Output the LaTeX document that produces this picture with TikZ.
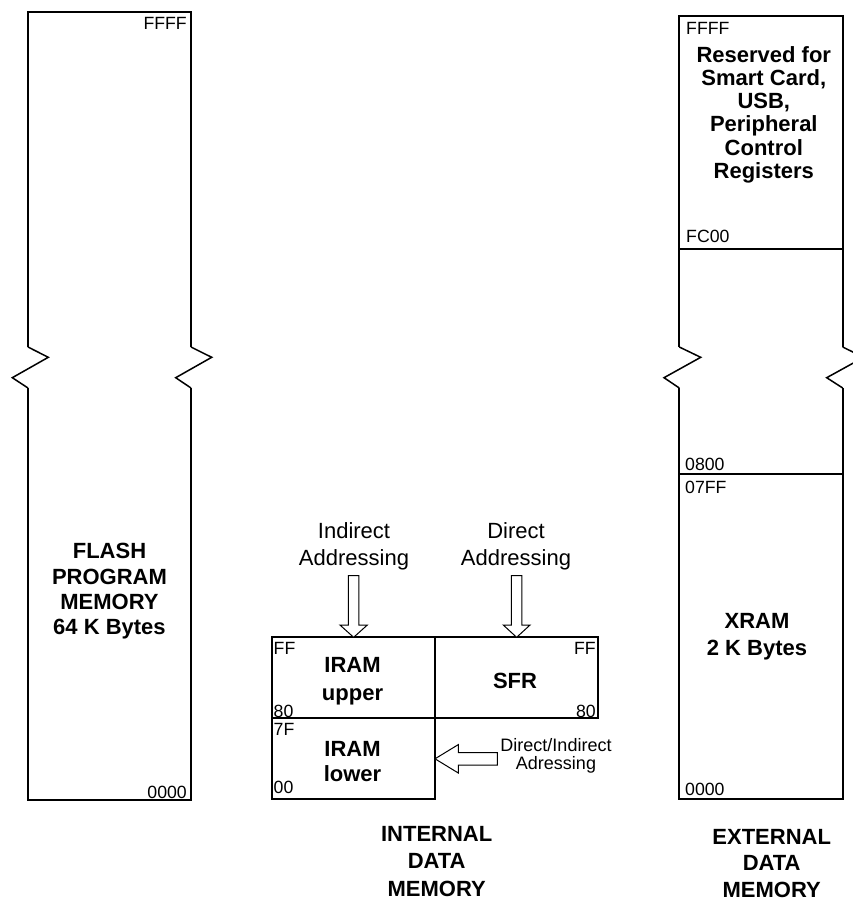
\documentclass[tikz,border=0pt]{standalone}
\usepackage{fontspec}
\setmainfont{Liberation Sans}
\begin{document}
\begin{tikzpicture}[x=1pt,y=-1pt,
  mem/.style={draw=black, line width=2pt, line join=miter},
  zig/.style={draw=black, line width=1.5pt},
  membox/.style={draw=black, line width=1.8pt, inner sep=0pt, outer sep=0pt},
  hexl/.style={font=\fontsize{17.7}{20}\selectfont, inner sep=0pt},
  bigb/.style={font=\fontsize{22}{#1}\selectfont\bfseries, align=center, inner sep=0pt, anchor=base},
  reg/.style={font=\fontsize{22}{#1}\selectfont, align=center, inner sep=0pt, anchor=base},
  smallreg/.style={font=\fontsize{18}{#1}\selectfont, align=center, inner sep=0pt, anchor=base},
  blockarr/.style={draw=black, line width=1pt, fill=white, line join=miter}
]
\useasboundingbox (0,0) rectangle (852,900);

% ---------- Flash program memory ----------
\draw[mem] (28,347) -- (28,12) -- (191,12) -- (191,347);
\draw[mem] (28,388) -- (28,800) -- (191,800) -- (191,388);
\draw[zig] (28,347) -- (48.3,357.3) -- (12.3,377.7) -- (28,388);
\draw[zig] (191,347) -- (211.7,357.3) -- (175.7,377.7) -- (191,388);
\node[hexl, anchor=base east] (fffff) at (187,29.6) {FFFF};
\node[hexl, anchor=base east] (f0000) at (187,798) {0000};
\node[bigb=25.3] (flash) at (109.5,634.6) {FLASH\\PROGRAM\\MEMORY\\64 K Bytes};

% ---------- External data memory ----------
\draw[mem] (679.3,347) -- (679.3,15.7) -- (842.7,15.7) -- (842.7,347);
\draw[mem] (679.3,388) -- (679.3,799) -- (842.7,799) -- (842.7,388);
\draw[zig] (679.3,347) -- (700.7,357.3) -- (664,377.7) -- (679.3,388);
\draw[zig] (842.7,347) -- (863.7,357.3) -- (826.7,377.7) -- (842.7,388);
\draw[mem] (679.3,249.3) -- (842.7,249.3);
\draw[mem] (679.3,474) -- (842.7,474);
\node[hexl, anchor=base west] (xffff) at (686,34.6) {FFFF};
\node[hexl, anchor=base west] (xfc00) at (686,242) {FC00};
\node[hexl, anchor=base west] (x0800) at (685,470.3) {0800};
\node[hexl, anchor=base west] (x07ff) at (685,493) {07FF};
\node[hexl, anchor=base west] (x0000) at (685,795.6) {0000};
\node[bigb=23.3] (resv) at (763.8,178.5) {Reserved for\\Smart Card,\\USB,\\Peripheral\\Control\\Registers};
\node[bigb=27.2] (xram) at (757,655.4) {XRAM\\2 K Bytes};
\node[bigb=26.5] (extl) at (771.7,897) {EXTERNAL\\DATA\\MEMORY};

% ---------- Internal data memory ----------
\node[membox, minimum width=162.7pt, minimum height=81pt] (iup) at (353.65,677.8) {};
\node[membox, minimum width=163.3pt, minimum height=81pt] (sfr) at (516.65,677.8) {};
\node[membox, minimum width=162.7pt, minimum height=81pt] (ilow) at (353.65,758.8) {};

\node[hexl, anchor=base west] (iupff) at (273.5,654.6) {FF};
\node[hexl, anchor=base west] (iup80) at (273.5,717) {80};
\node[hexl, anchor=base west] (ilo7f) at (273.5,735.3) {7F};
\node[hexl, anchor=base west] (ilo00) at (273.5,793) {00};
\node[hexl, anchor=base east] (sfrff) at (596,654.6) {FF};
\node[hexl, anchor=base east] (sfr80) at (596,717) {80};

\node[bigb=27.5] (iuptxt) at (352.5,700.4) {IRAM\\upper};
\node[bigb=25.5] (ilotxt) at (352.5,781.7) {IRAM\\lower};
\node[bigb=25] (sfrtxt) at (515,688.6) {SFR};
\node[bigb=27.5] (intl) at (436.7,896) {INTERNAL\\DATA\\MEMORY};

\node[reg=26.7] (indir) at (354,565.4) {Indirect\\Addressing};
\node[reg=26.7] (dir) at (516,565.4) {Direct\\Addressing};
\node[smallreg=18] (dirind) at (556,769.4) {Direct/Indirect\\Adressing};

% block arrows
\draw[blockarr] (iup.north) -- ++(-13.7,-12.3) -- ++(8.4,0) -- ++(0,-49.3)
  -- ++(10.6,0) -- ++(0,49.3) -- ++(8.4,0) -- cycle;
\draw[blockarr] (sfr.north) -- ++(-13.4,-12.3) -- ++(8.1,0) -- ++(0,-49.3)
  -- ++(10.6,0) -- ++(0,49.3) -- ++(8.1,0) -- cycle;
\draw[blockarr] (ilow.east) -- ++(23.3,-14.2) -- ++(0,8) -- ++(39,0)
  -- ++(0,12.4) -- ++(-39,0) -- ++(0,8) -- cycle;
\end{tikzpicture}
\end{document}
